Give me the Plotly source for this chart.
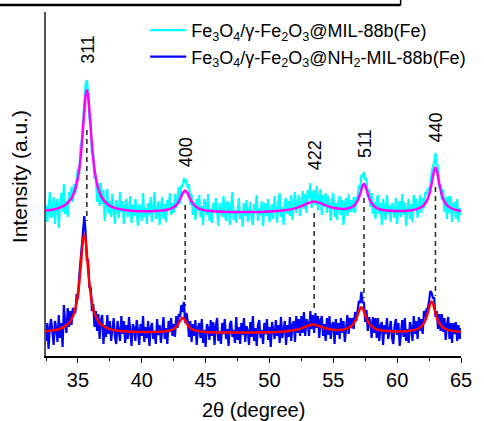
import numpy as np
import plotly.graph_objects as go

# ---- data (intensity in arbitrary units) ----
two_theta = np.linspace(32.5, 65.0, 326)  # 0.1 degree steps

mil88_raw = [
    151, 134, 149, 164, 138, 144, 159, 132, 151, 157,
    128, 153, 163, 144, 172, 142, 155, 139, 164, 158,
    169, 154, 172, 163, 178, 187, 181, 209, 215, 236,
    251, 272, 276, 264, 238, 235, 202, 203, 177, 182,
    154, 173, 150, 173, 152, 166, 135, 157, 167, 142,
    155, 139, 162, 145, 132, 156, 149, 138, 164, 144,
    155, 132, 150, 157, 139, 145, 160, 133, 151, 140,
    157, 142, 130, 152, 146, 135, 163, 139, 148, 132,
    153, 141, 159, 134, 147, 164, 137, 143, 155, 131,
    149, 159, 137, 152, 134, 156, 148, 163, 141, 153,
    143, 162, 148, 161, 169, 152, 171, 169, 178, 174,
    175, 168, 172, 151, 162, 141, 154, 136, 157, 145,
    161, 139, 150, 131, 157, 152, 141, 162, 135, 147,
    133, 153, 146, 158, 139, 130, 153, 147, 139, 160,
    142, 135, 155, 149, 131, 151, 164, 136, 146, 133,
    150, 158, 137, 145, 129, 153, 140, 156, 134, 147,
    154, 138, 131, 152, 146, 161, 135, 148, 141, 155,
    130, 149, 153, 140, 157, 134, 146, 152, 137, 160,
    148, 133, 155, 163, 139, 149, 131, 154, 158, 142,
    155, 140, 161, 136, 153, 164, 143, 150, 161, 140,
    157, 165, 147, 162, 143, 166, 158, 173, 148, 162,
    166, 151, 170, 146, 159, 167, 141, 161, 149, 163,
    143, 160, 152, 135, 157, 163, 139, 153, 136, 154,
    160, 141, 156, 131, 151, 158, 140, 162, 144, 156,
    144, 159, 143, 159, 158, 171, 166, 181, 180, 184,
    176, 178, 159, 167, 149, 163, 142, 154, 137, 157,
    161, 142, 153, 131, 157, 148, 136, 161, 142, 151,
    134, 153, 148, 138, 158, 132, 150, 155, 139, 162,
    141, 154, 130, 147, 157, 137, 152, 134, 161, 147,
    157, 138, 151, 161, 143, 158, 148, 164, 161, 167,
    168, 170, 184, 189, 194, 203, 191, 190, 168, 172,
    156, 167, 144, 159, 137, 160, 143, 160, 134, 151,
    154, 137, 157, 134, 148, 141,
]

nh2_raw = [
    15, 33, 7, 29, 37, 19, 11, 35, 28, 14,
    41, 18, 33, 9, 51, 33, 23, 48, 29, 45,
    31, 48, 45, 43, 62, 57, 79, 96, 106, 128,
    140, 124, 96, 96, 68, 69, 45, 52, 29, 45,
    25, 42, 17, 36, 41, 12, 31, 19, 41, 22,
    35, 15, 30, 38, 19, 12, 35, 26, 15, 40,
    22, 35, 13, 31, 17, 39, 24, 10, 32, 28,
    15, 36, 26, 11, 32, 20, 40, 14, 29, 18,
    35, 10, 28, 33, 17, 25, 12, 37, 21, 31,
    13, 30, 39, 17, 28, 12, 35, 24, 38, 20,
    32, 19, 40, 28, 42, 39, 51, 44, 54, 33,
    43, 35, 19, 35, 14, 32, 20, 36, 11, 28,
    33, 18, 37, 13, 26, 9, 32, 28, 16, 36,
    20, 34, 11, 30, 38, 15, 25, 12, 33, 22,
    37, 17, 27, 10, 32, 35, 19, 26, 13, 39,
    16, 29, 12, 33, 21, 38, 14, 30, 25, 11,
    34, 19, 40, 15, 28, 10, 31, 36, 18, 26,
    12, 33, 22, 37, 16, 29, 9, 34, 27, 17,
    36, 20, 31, 13, 39, 18, 26, 35, 11, 31,
    19, 39, 15, 31, 35, 14, 40, 23, 37, 20,
    40, 23, 44, 20, 37, 33, 20, 45, 27, 41,
    23, 43, 28, 40, 18, 36, 40, 20, 32, 15,
    38, 21, 40, 17, 31, 34, 12, 37, 21, 33,
    17, 38, 23, 35, 14, 33, 41, 22, 38, 28,
    38, 27, 44, 35, 45, 55, 53, 64, 53, 54,
    34, 46, 25, 39, 34, 18, 39, 23, 38, 18,
    38, 15, 30, 34, 11, 31, 22, 38, 17, 27,
    35, 18, 12, 30, 37, 21, 33, 10, 28, 36,
    19, 38, 15, 27, 13, 34, 29, 15, 40, 22,
    35, 17, 39, 25, 37, 22, 45, 39, 47, 48,
    55, 65, 63, 58, 58, 39, 45, 27, 42, 25,
    42, 24, 38, 16, 31, 39, 17, 33, 13, 33,
    22, 34, 15, 31, 17, 28,
]

mil88_fit_x = [32.5, 33.0, 33.5, 34.0, 34.5, 34.8, 35.0, 35.2, 35.4, 35.5, 35.6, 35.7, 35.8, 35.9, 36.0,
               36.2, 36.4, 36.6, 36.9, 37.4, 38.0, 39.0, 40.0, 41.0, 42.0, 42.5, 42.8, 43.0, 43.2, 43.4,
               43.6, 43.8, 44.1, 44.5, 45.0, 46.0, 47.0, 48.0, 49.0, 50.0, 51.0, 52.0, 52.5, 53.0, 53.5,
               54.0, 54.5, 55.0, 55.5, 56.0, 56.4, 56.7, 56.9, 57.1, 57.2, 57.3, 57.4, 57.5, 57.6, 57.7,
               57.9, 58.2, 58.6, 59.2, 60.0, 61.0, 61.5, 62.0, 62.3, 62.5, 62.7, 62.8, 62.9, 63.0, 63.1,
               63.2, 63.3, 63.5, 63.7, 64.0, 64.5, 65.0]
mil88_fit_y = [145.4, 146.3, 147.9, 150.9, 157.9, 167.1, 178.2, 196.8, 227.5, 245.3, 260, 266, 260, 245.3, 227.5,
               196.8, 178.2, 167.1, 158.0, 151.0, 147.6, 145.5, 144.8, 144.9, 146.2, 148.8, 152.6, 157.0, 162.6, 165.6,
               162.5, 156.9, 151.0, 147.4, 145.6, 144.4, 144.0, 144.0, 144.1, 144.5, 145.4, 147.6, 149.8, 152.8, 154.5,
               152.9, 150.2, 148.2, 147.2, 147.3, 148.6, 151.4, 155.3, 162.1, 166.5, 170.5, 172.2, 170.4, 166.4, 162.0,
               155.0, 149.7, 146.8, 145.4, 144.9, 145.5, 146.6, 149.7, 154.5, 161.0, 172.3, 179.5, 185.8, 188.5, 185.8,
               179.5, 172.3, 161.0, 154.4, 149.6, 146.4, 145.1]

nh2_fit_x = [32.5, 33.0, 33.5, 34.0, 34.4, 34.7, 34.9, 35.1, 35.2, 35.3, 35.4, 35.5, 35.6, 35.7, 35.8,
             35.9, 36.1, 36.3, 36.6, 37.0, 37.5, 38.0, 39.0, 40.0, 41.0, 42.0, 42.5, 42.8, 43.0, 43.1,
             43.2, 43.3, 43.4, 43.6, 43.9, 44.4, 45.0, 46.0, 48.0, 50.0, 51.0, 52.0, 52.5, 53.0, 53.4,
             53.8, 54.3, 54.8, 55.3, 55.8, 56.2, 56.5, 56.7, 56.9, 57.0, 57.1, 57.2, 57.3, 57.4, 57.5,
             57.7, 57.9, 58.2, 58.6, 59.2, 60.0, 61.0, 61.5, 61.9, 62.2, 62.4, 62.5, 62.6, 62.7, 62.8,
             62.9, 63.0, 63.2, 63.5, 63.9, 64.4, 65.0]
nh2_fit_y = [24.8, 25.5, 26.8, 29.6, 34.6, 42.8, 53.5, 72.5, 86.4, 102.2, 116.2, 122.1, 116.2, 102.2, 86.4,
             72.5, 53.5, 42.8, 34.6, 29.7, 26.9, 25.6, 24.4, 24.0, 24.0, 24.9, 27.0, 30.8, 35.3, 37.4,
             38.3, 37.4, 35.3, 30.8, 27.0, 24.9, 24.0, 23.6, 23.5, 23.8, 24.3, 25.9, 27.6, 30.2, 31.4,
             30.3, 28.0, 26.6, 26.1, 26.5, 28.1, 31.1, 34.9, 40.9, 44.5, 47.4, 48.8, 47.6, 44.6, 41.0,
             34.9, 31.0, 27.9, 26.0, 24.9, 24.6, 25.2, 26.6, 29.6, 35.5, 43.2, 48.2, 52.6, 54.4, 52.6,
             48.2, 43.1, 35.4, 29.5, 26.4, 24.9, 24.2]

peak_labels = ["311", "400", "422", "511", "440"]
peak_pos = [35.7, 43.4, 53.5, 57.4, 63.0]
peak_label_y = [307, 204, 201, 213, 229]
dash_top = [226, 151, 143, 158, 169]
dash_bottom = [135, 50, 44, 58, 60]

name_mil = "Fe<sub>3</sub>O<sub>4</sub>/γ-Fe<sub>2</sub>O<sub>3</sub>@MIL-88b(Fe)"
name_nh2 = "Fe<sub>3</sub>O<sub>4</sub>/γ-Fe<sub>2</sub>O<sub>3</sub>@NH<sub>2</sub>-MIL-88b(Fe)"

FONT = "Liberation Sans, Arial, sans-serif"

fig = go.Figure()
fig.add_trace(go.Scatter(x=two_theta, y=mil88_raw, mode="lines", name=name_mil,
                         line=dict(color="#00FFFF", width=2.2)))
fig.add_trace(go.Scatter(x=mil88_fit_x, y=mil88_fit_y, mode="lines", showlegend=False,
                         line=dict(color="#FF00FF", width=2.5, shape="spline", smoothing=0.6)))
fig.add_trace(go.Scatter(x=two_theta, y=nh2_raw, mode="lines", name=name_nh2,
                         line=dict(color="#0000FF", width=2.2)))
fig.add_trace(go.Scatter(x=nh2_fit_x, y=nh2_fit_y, mode="lines", showlegend=False,
                         line=dict(color="#FF0000", width=2.5, shape="spline", smoothing=0.6)))

shapes = []
for xp, yt, yb in zip(peak_pos, dash_top, dash_bottom):
    shapes.append(dict(type="line", xref="x", yref="y", x0=xp, x1=xp, y0=yt, y1=yb,
                       line=dict(color="#222222", width=1.5, dash="5px,4px"), layer="below"))
# cropped frame remnants at top of the image
shapes.append(dict(type="line", xref="paper", yref="paper", x0=-0.12, x1=0.8545, y0=1.0203, y1=1.0203,
                   line=dict(color="black", width=2.5), layer="above"))
shapes.append(dict(type="line", xref="paper", yref="paper", x0=0.8545, x1=0.8545, y0=1.0203, y1=1.05,
                   line=dict(color="black", width=1.5), layer="above"))

annotations = []
for lab, xp, yl in zip(peak_labels, peak_pos, peak_label_y):
    annotations.append(dict(x=xp, y=yl, xref="x", yref="y", text=lab, showarrow=False,
                            textangle=-90, xshift=1, font=dict(family=FONT, size=18, color="black")))
annotations.append(dict(x=-0.065, y=0.52, xref="paper", yref="paper", text="Intensity (a.u.)",
                        showarrow=False, textangle=-90, xanchor="center", yanchor="middle",
                        font=dict(family=FONT, size=21, color="black")))
annotations.append(dict(x=0.5, y=-0.158, xref="paper", yref="paper", text="2θ (degree)",
                        showarrow=False, xanchor="center", yanchor="middle",
                        font=dict(family=FONT, size=20, color="black")))

fig.update_layout(
    width=484, height=421,
    margin=dict(l=46, r=12, t=12, b=65),
    paper_bgcolor="white", plot_bgcolor="white",
    shapes=shapes, annotations=annotations,
    showlegend=True,
    legend=dict(x=0.239, y=1.0, xanchor="left", yanchor="top", bgcolor="rgba(0,0,0,0)",
                itemwidth=36, font=dict(family=FONT, size=18, color="black"), tracegroupgap=0),
    xaxis=dict(range=[32.5, 65], showgrid=False, zeroline=False, showline=True,
               linecolor="black", linewidth=1.5, ticks="outside", ticklen=5, tickwidth=1.2,
               tickcolor="black", dtick=5, tick0=35,
               minor=dict(dtick=2.5, tick0=32.5, ticks="outside", ticklen=3, tickwidth=1.2,
                          tickcolor="black", showgrid=False),
               tickfont=dict(family=FONT, size=20, color="black")),
    yaxis=dict(range=[0, 344], showgrid=False, zeroline=False, showline=True,
               linecolor="#555555", linewidth=2, ticks="", showticklabels=False),
)

fig.write_html("out.html", config={"displayModeBar": False},
               post_script="document.body.style.margin='0px';")
